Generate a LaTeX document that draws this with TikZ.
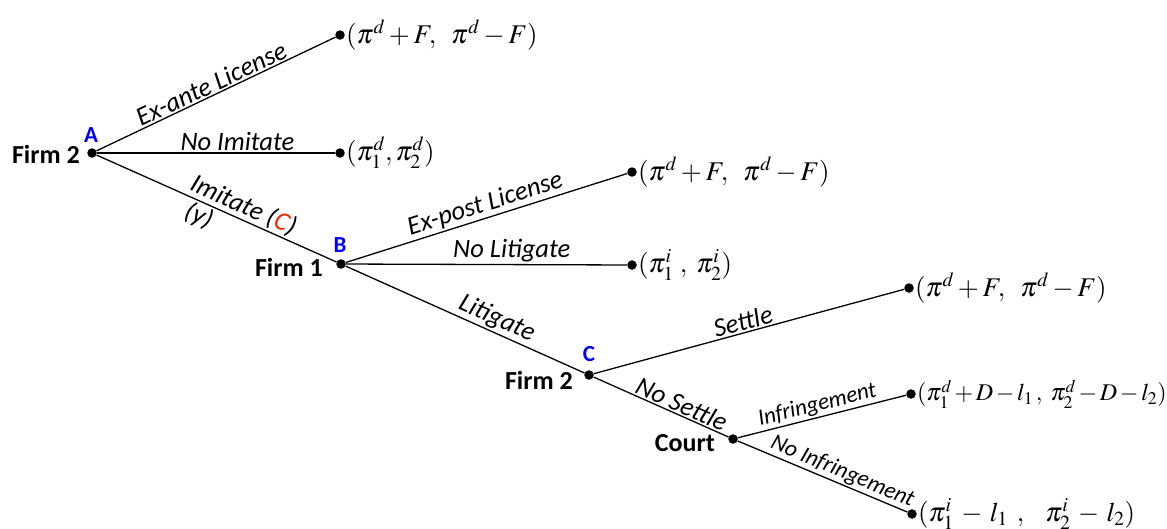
\documentclass[tikz,border=0pt]{standalone}
\usepackage{mathptmx}
\usepackage[no-math]{fontspec}
\setmainfont{Carlito}
\usetikzlibrary{positioning}

\definecolor{tagblue}{RGB}{0,0,255}
\definecolor{costred}{RGB}{240,40,0}

\tikzset{
  dot/.style={circle,fill=black,inner sep=0pt,minimum size=9.5pt},
  branch/.style={line width=1.3pt},
  lbl/.style={font=\fontsize{26.5}{30}\selectfont\itshape,inner sep=1.5pt},
  smalllbl/.style={lbl,font=\fontsize{23}{27}\selectfont\itshape},
  player/.style={font=\fontsize{26}{30}\selectfont\bfseries,inner sep=0pt,anchor=east},
  tag/.style={font=\fontsize{23}{26}\selectfont\bfseries,text=tagblue,inner sep=0pt},
  pay/.style={font=\fontsize{27}{31}\selectfont,anchor=west,inner sep=1pt},
}

\begin{document}
\begin{tikzpicture}[x=1pt,y=-1pt]
\useasboundingbox (0,0) rectangle (1167,528);

% decision and terminal nodes
\node[dot] (A)    at (92,153)  {};
\node[dot] (eA)   at (340,35)  {};
\node[dot] (nI)   at (340,153) {};
\node[dot] (B)    at (341,264) {};
\node[dot] (eP)   at (632,172) {};
\node[dot] (nL)   at (632,265) {};
\node[dot] (C)    at (589,375) {};
\node[dot] (st)   at (909,288) {};
\node[dot] (Ct)   at (733,439) {};
\node[dot] (inf)  at (911,394) {};
\node[dot] (ninf) at (912,514) {};

% players and node tags
\node[player] (pA) at (80,154)  {Firm 2};
\node[tag]    (tA) at (91,135)  {A};
\node[player] (pB) at (323,267) {Firm 1};
\node[tag]    (tB) at (340,245) {B};
\node[player] (pC) at (573,380) {Firm 2};
\node[tag]    (tC) at (589,354) {C};
\node[player] (pCt) at (715,443) {Court};

% branches
\draw[branch] (A) -- node[lbl,sloped,above,pos=0.5] {Ex-ante License} (eA);
\draw[branch] (A) -- node[lbl,above,pos=0.59] {No Imitate} (nI);
\draw[branch] (A) -- node[lbl,sloped,above,pos=0.59] {Imitate (\textcolor{costred}{C})}
                     node[lbl,sloped,below,pos=0.45] {(y)} (B);
\draw[branch] (B) -- node[lbl,sloped,above,pos=0.51] {Ex-post License} (eP);
\draw[branch] (B) -- node[lbl,above,pos=0.59] {No Litigate} (nL);
\draw[branch] (B) -- node[lbl,sloped,above,pos=0.61] {Litigate} (C);
\draw[branch] (C) -- node[lbl,sloped,above,pos=0.49] {Settle} (st);
\draw[branch] (C) -- node[lbl,sloped,above,pos=0.62] {No Settle} (Ct);
\draw[branch] (Ct) -- node[smalllbl,sloped,above,pos=0.49] {Infringement} (inf);
\draw[branch] (Ct) -- node[smalllbl,sloped,above,pos=0.59] {No Infringement} (ninf);

% payoffs
\node[pay] (p1) at (eA.east)   {$(\pi^{d}+F,\;\;\pi^{d}-F)$};
\node[pay] (p2) at (nI.east)   {$(\pi_1^{d},\pi_2^{d})$};
\node[pay] (p3) at (eP.east)   {$(\pi^{d}+F,\;\;\pi^{d}-F)$};
\node[pay] (p4) at (nL.east)   {$(\pi_1^{i}\;,\;\pi_2^{i})$};
\node[pay] (p5) at (st.east)   {$(\pi^{d}+F,\;\;\pi^{d}-F)$};
\node[pay,font=\fontsize{24}{28}\selectfont] (p6) at (inf.east)
  {\medmuskip=2mu$(\pi_1^{d}+D-l_1\,,\;\pi_2^{d}-D-l_2)$};
\node[pay] (p7) at (ninf.east)
  {\medmuskip=5mu$(\pi_1^{i}-l_1\;\,,\;\;\;\pi_2^{i}-l_2)$};
\end{tikzpicture}
\end{document}
